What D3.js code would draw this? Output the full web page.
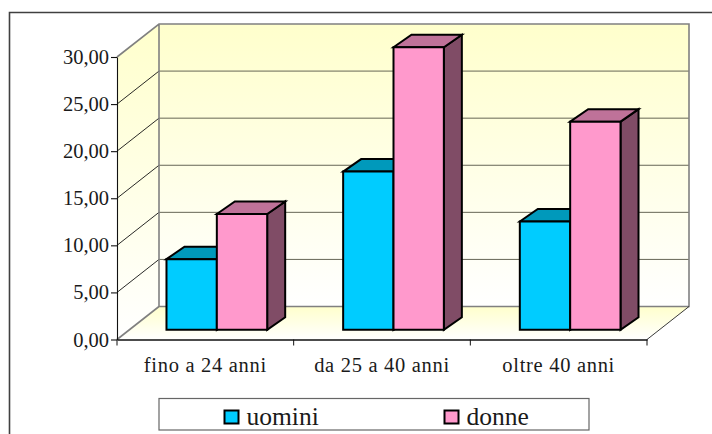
<!DOCTYPE html>
<meta charset="utf-8">

<style type="text/css">
	html, body {
		margin: 0;
		padding: 0;
		background: #fff;
		overflow: hidden;
	}
	text {
		font-family: "Liberation Serif", serif;
		fill: #1a1a1a;
	}
	.tick text {
		stroke: none;
	}
</style>

<body>

</body>

<script src="https://d3js.org/d3.v7.min.js"></script>

<script>

	var categories = ["fino a 24 anni", "da 25 a 40 anni", "oltre 40 anni"];
	var seriesNames = ["uomini", "donne"];
	var uomini = [7.5, 16.8, 11.5];
	var donne = [12.3, 30, 22.1];
	var yTicks = [0, 5, 10, 15, 20, 25, 30];

	var colors = {
		uomini: {front: "#00ccff", top: "#0099bb", side: "#006f8c"},
		donne: {front: "#ff99cc", top: "#bf7299", side: "#804c66"}
	};

	var width = 712, height = 434;

	// front plane of the box, and how far the back wall is pushed
	var left = 117, right = 647, bottom = 339.5, top_ = 57;
	var depthX = 42, depthY = -33;

	// bars sit a bit inside the floor, and have their own depth
	var barOffX = 11.5, barOffY = -9.7;
	var barDepthX = 18, barDepthY = -12.5;

	var svg = d3.select("body").append("svg")
		.attr("width", width)
		.attr("height", height)
		.style("display", "block");

	var defs = svg.append("defs");

	function gradient(id, c1, c2) {
		var g = defs.append("linearGradient")
			.attr("id", id)
			.attr("x1", 0).attr("y1", 0)
			.attr("x2", 0).attr("y2", 1);
		g.append("stop").attr("offset", "0%").attr("stop-color", c1);
		g.append("stop").attr("offset", "100%").attr("stop-color", c2);
	}
	gradient("wall", "#ffffcc", "#ffffff");
	gradient("floor", "#ffffcc", "#ffffff");

	var xScale = d3.scaleBand()
		.domain(categories)
		.range([left, right])
		.paddingInner(0.43)
		.paddingOuter(0.215);

	var xInner = d3.scaleBand()
		.domain(seriesNames)
		.range([0, xScale.bandwidth()]);

	var yScale = d3.scaleLinear()
		.domain([0, 30])
		.range([bottom, top_]);

	// outer frame, runs off the page on the right and bottom
	svg.append("path")
		.attr("d", "M9.5," + height + "V12.5H" + width)
		.attr("fill", "none")
		.attr("stroke", "#404040")
		.attr("stroke-width", 1.6);

	function poly(pts, fill, stroke, sw) {
		return svg.append("polygon")
			.attr("points", pts.map(function(p) { return p.join(","); }).join(" "))
			.attr("fill", fill)
			.attr("stroke", stroke)
			.attr("stroke-width", sw);
	}

	// side wall
	poly([[left, top_], [left + depthX, top_ + depthY], [left + depthX, bottom + depthY], [left, bottom]], "url(#wall)", "none", 0);
	// back wall
	poly([[left + depthX, top_ + depthY], [right + depthX, top_ + depthY], [right + depthX, bottom + depthY], [left + depthX, bottom + depthY]], "url(#wall)", "none", 0);
	// floor
	poly([[left + depthX, bottom + depthY], [right + depthX, bottom + depthY], [right, bottom], [left, bottom]], "url(#floor)", "none", 0);

	// gridlines, back wall and side wall
	svg.append("g").selectAll("line")
		.data(yTicks.slice(1, -1))
		.enter()
		.append("line")
		.attr("x1", left + depthX)
		.attr("x2", right + depthX)
		.attr("y1", function(d) { return yScale(d) + depthY; })
		.attr("y2", function(d) { return yScale(d) + depthY; })
		.attr("stroke", "#666655")
		.attr("stroke-width", 1);

	svg.append("g").selectAll("line")
		.data(yTicks.slice(1, -1))
		.enter()
		.append("line")
		.attr("x1", left)
		.attr("x2", left + depthX)
		.attr("y1", function(d) { return yScale(d); })
		.attr("y2", function(d) { return yScale(d) + depthY; })
		.attr("stroke", "#111")
		.attr("stroke-width", 0.9);

	// grey edges of the walls
	svg.append("path")
		.attr("d", "M" + left + "," + top_ + "L" + (left + depthX) + "," + (top_ + depthY) +
			"H" + (right + depthX) + "V" + (bottom + depthY) + "H" + (left + depthX) + "V" + (top_ + depthY) +
			"M" + (left + depthX) + "," + (bottom + depthY) + "L" + left + "," + bottom)
		.attr("fill", "none")
		.attr("stroke", "#808080")
		.attr("stroke-width", 1.6);

	svg.append("line")
		.attr("x1", right)
		.attr("y1", bottom)
		.attr("x2", right + depthX)
		.attr("y2", bottom + depthY)
		.attr("stroke", "#222")
		.attr("stroke-width", 0.9);

	// bars
	function drawBar(cat, name, value) {
		var c = colors[name];
		var x0 = xScale(cat) + xInner(name) + barOffX;
		var x1 = x0 + xInner.bandwidth();
		var y0 = yScale(value) + barOffY;
		var y1 = yScale(0) + barOffY;
		var dx = barDepthX, dy = barDepthY;

		poly([[x1, y0], [x1 + dx, y0 + dy], [x1 + dx, y1 + dy], [x1, y1]], c.side, "#000", 2);
		poly([[x0, y0], [x0 + dx, y0 + dy], [x1 + dx, y0 + dy], [x1, y0]], c.top, "#000", 2);
		poly([[x0, y0], [x1, y0], [x1, y1], [x0, y1]], c.front, "#000", 2);
	}

	categories.forEach(function(cat, i) {
		drawBar(cat, "uomini", uomini[i]);
		drawBar(cat, "donne", donne[i]);
	});

	// axes
	var yAxis = d3.axisLeft(yScale)
		.tickValues(yTicks)
		.tickSize(6)
		.tickSizeOuter(0)
		.tickPadding(2)
		.tickFormat(function(d) { return d3.format(".2f")(d).replace(".", ","); });

	var yG = svg.append("g")
		.attr("transform", "translate(" + left + ",0)")
		.call(yAxis);
	yG.selectAll("path, line").attr("stroke", "#111").attr("stroke-width", 1.1);
	yG.selectAll("text")
		.attr("font-size", 20.5)
		.style("font-family", "'Liberation Serif', serif")
		.attr("fill", "#1a1a1a");

	var xAxis = d3.axisBottom(xScale)
		.tickSize(0)
		.tickPadding(18);

	var xG = svg.append("g")
		.attr("transform", "translate(0," + bottom + ")")
		.call(xAxis);
	xG.select("path").attr("stroke", "#111").attr("stroke-width", 1.3);
	xG.selectAll("text")
		.attr("font-size", 20.5)
		.attr("letter-spacing", 0.7)
		.style("font-family", "'Liberation Serif', serif")
		.attr("fill", "#1a1a1a");

	// category separators, d3 band ticks sit in the middle so draw them here
	var sepTicks = [left].concat(categories.map(function(c) {
		return xScale(c) + xScale.bandwidth() + xScale.step() * xScale.paddingInner() / 2;
	}));
	sepTicks[3] = right;
	svg.append("g").selectAll("line")
		.data(sepTicks)
		.enter()
		.append("line")
		.attr("x1", function(d) { return d; })
		.attr("x2", function(d) { return d; })
		.attr("y1", bottom)
		.attr("y2", bottom + 6)
		.attr("stroke", "#111")
		.attr("stroke-width", 1);

	// legend
	var legend = svg.append("g");
	legend.append("rect")
		.attr("x", 159)
		.attr("y", 398.5)
		.attr("width", 430)
		.attr("height", 31.5)
		.attr("fill", "#fff")
		.attr("stroke", "#666")
		.attr("stroke-width", 1.2);

	var legendX = d3.scaleOrdinal().domain(seriesNames).range([224.5, 444.5]);

	var items = legend.selectAll("g")
		.data(seriesNames)
		.enter()
		.append("g")
		.attr("transform", function(d) { return "translate(" + legendX(d) + ",410.5)"; });

	items.append("rect")
		.attr("width", 14)
		.attr("height", 13)
		.attr("fill", function(d) { return colors[d].front; })
		.attr("stroke", "#000")
		.attr("stroke-width", 2);

	items.append("text")
		.attr("x", 22)
		.attr("y", 14)
		.attr("font-size", 25.5)
		.text(function(d) { return d; });

</script>
